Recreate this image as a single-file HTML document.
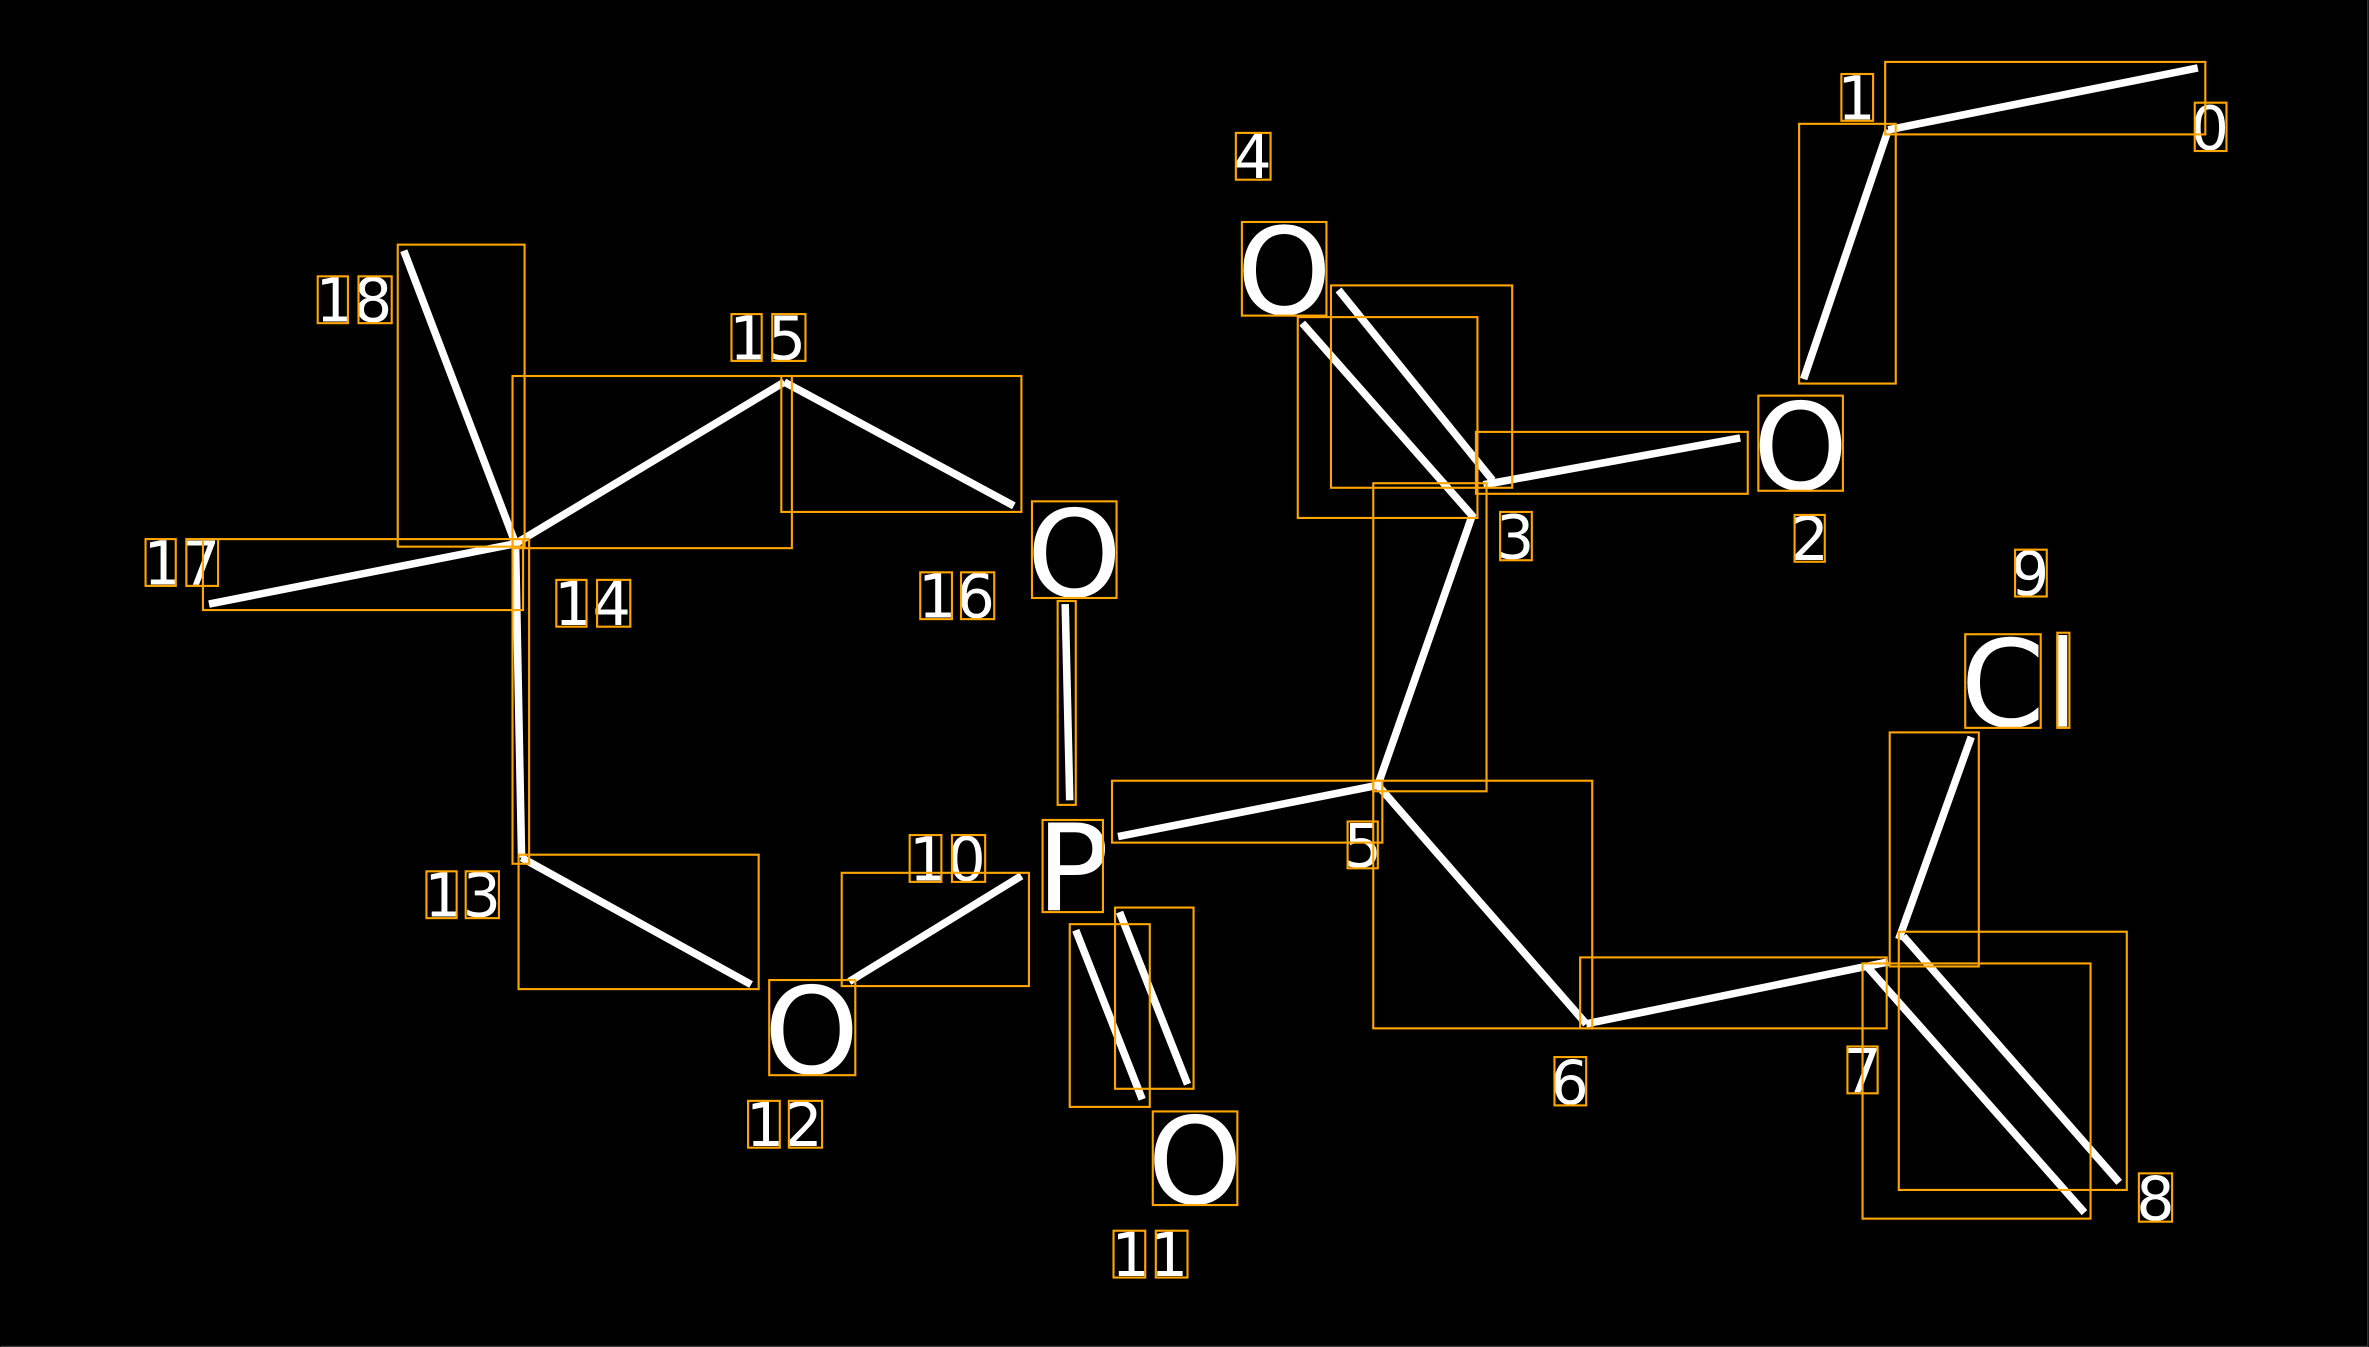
<!DOCTYPE html>
<html><head><meta charset="utf-8"><style>
html,body{margin:0;padding:0;background:#000;}
svg{display:block}
text{font-family:"DejaVu Sans","Liberation Sans",sans-serif;fill:#fff;text-anchor:middle}
.d{font-size:40px}
.a{font-size:80px}
</style></head><body>
<svg width="2369" height="1347" viewBox="0 0 1568 892" xmlns="http://www.w3.org/2000/svg">
<rect x="0" y="0" width="1568" height="892" fill="#000"/>
<line x1="1567.6" y1="0" x2="1567.6" y2="892" stroke="#3a3a3a" stroke-width="0.8"/>
<line x1="0" y1="891.6" x2="1568" y2="891.6" stroke="#3a3a3a" stroke-width="0.8"/>
<g stroke="#fff" stroke-width="5" stroke-linecap="butt" fill="none">
<line x1="1455" y1="45" x2="1250" y2="86"/>
<line x1="1250" y1="86" x2="1194" y2="251"/>
<line x1="982" y1="321" x2="1152" y2="290"/>
<line x1="862" y1="214" x2="975" y2="342"/>
<line x1="886" y1="192" x2="988" y2="318"/>
<line x1="975" y1="340" x2="912" y2="520"/>
<line x1="912" y1="520" x2="740" y2="554"/>
<line x1="912" y1="520" x2="1050" y2="678"/>
<line x1="1050" y1="678" x2="1250" y2="637"/>
<line x1="1257" y1="622" x2="1305" y2="488"/>
<line x1="1236" y1="640" x2="1380" y2="803"/>
<line x1="1260" y1="620" x2="1403" y2="783"/>
<line x1="705" y1="400" x2="708" y2="530"/>
<line x1="712" y1="616" x2="756" y2="728"/>
<line x1="741" y1="604" x2="786" y2="718"/>
<line x1="676" y1="580" x2="562" y2="650"/>
<line x1="497" y1="652" x2="345" y2="568"/>
<line x1="345" y1="568" x2="341" y2="360"/>
<line x1="341" y1="360" x2="519" y2="253"/>
<line x1="519" y1="253" x2="671" y2="335"/>
<line x1="341" y1="360" x2="138" y2="400"/>
<line x1="341" y1="360" x2="267" y2="166"/>
</g>
<g>
<text class="d" x="1229" y="79">1</text>
<text class="d" x="1463" y="99">0</text>
<text class="d" x="829" y="118">4</text>
<text class="a" x="850" y="208">O</text>
<text class="a" x="1192" y="324">O</text>
<text class="d" x="1003" y="370">3</text>
<text class="d" x="1198" y="371">2</text>
<text class="d" x="1344" y="394">9</text>
<text class="a" x="1337" y="481">Cl</text>
<text class="d" x="902" y="574">5</text>
<text class="d" x="1039" y="731">6</text>
<text class="d" x="1233" y="723">7</text>
<text class="d" x="1427" y="808">8</text>
<text class="a" x="711" y="395">O</text>
<text class="d" x="633" y="409">16</text>
<text class="a" x="710" y="603">P</text>
<text class="d" x="627" y="583">10</text>
<text class="a" x="537" y="711">O</text>
<text class="a" x="791" y="797">O</text>
<text class="d" x="761" y="845">11</text>
<text class="d" x="519" y="759">12</text>
<text class="d" x="306" y="607">13</text>
<text class="d" x="392" y="414">14</text>
<text class="d" x="508" y="238">15</text>
<text class="d" x="120" y="387">17</text>
<text class="d" x="234" y="213">18</text>
</g>
<g stroke="#ffa500" stroke-width="1.4" fill="none">
<rect x="1248" y="41" width="212" height="48"/>
<rect x="1191" y="82" width="64" height="172"/>
<rect x="1219" y="49" width="21" height="31"/>
<rect x="1453" y="68" width="21" height="32"/>
<rect x="818" y="88" width="23" height="31"/>
<rect x="822" y="147" width="56" height="62"/>
<rect x="881" y="189" width="120" height="134"/>
<rect x="859" y="210" width="119" height="133"/>
<rect x="977" y="286" width="180" height="41"/>
<rect x="1164" y="262" width="56" height="63"/>
<rect x="993" y="339" width="21" height="32"/>
<rect x="1188" y="341" width="20" height="31"/>
<rect x="1334" y="364" width="21" height="31"/>
<rect x="1301" y="420" width="50" height="62"/>
<rect x="1362" y="419" width="8" height="63"/>
<rect x="909" y="320" width="75" height="204"/>
<rect x="736" y="517" width="179" height="41"/>
<rect x="909" y="517" width="145" height="164"/>
<rect x="892" y="544" width="20" height="31"/>
<rect x="1046" y="634" width="203" height="47"/>
<rect x="1251" y="485" width="59" height="155"/>
<rect x="1257" y="617" width="151" height="171"/>
<rect x="1233" y="638" width="151" height="169"/>
<rect x="1029" y="700" width="21" height="32"/>
<rect x="1223" y="693" width="20" height="31"/>
<rect x="1416" y="777" width="22" height="32"/>
<rect x="683" y="332" width="56" height="64"/>
<rect x="700" y="398" width="12" height="135"/>
<rect x="609" y="379" width="21" height="31"/>
<rect x="636" y="379" width="22" height="31"/>
<rect x="690" y="543" width="40" height="61"/>
<rect x="602" y="553" width="21" height="31"/>
<rect x="630" y="553" width="22" height="31"/>
<rect x="557" y="578" width="124" height="75"/>
<rect x="509" y="649" width="57" height="63"/>
<rect x="708" y="612" width="53" height="121"/>
<rect x="738" y="601" width="52" height="120"/>
<rect x="763" y="736" width="56" height="62"/>
<rect x="737" y="815" width="21" height="31"/>
<rect x="765" y="815" width="21" height="31"/>
<rect x="495" y="729" width="21" height="31"/>
<rect x="522" y="729" width="22" height="31"/>
<rect x="343" y="566" width="159" height="89"/>
<rect x="282" y="577" width="20" height="31"/>
<rect x="308" y="577" width="22" height="31"/>
<rect x="339" y="357" width="11" height="215"/>
<rect x="368" y="384" width="20" height="31"/>
<rect x="395" y="384" width="22" height="31"/>
<rect x="339" y="249" width="185" height="114"/>
<rect x="517" y="249" width="159" height="90"/>
<rect x="484" y="208" width="20" height="31"/>
<rect x="511" y="208" width="22" height="31"/>
<rect x="134" y="357" width="212" height="47"/>
<rect x="96" y="357" width="20" height="31"/>
<rect x="123" y="357" width="21" height="31"/>
<rect x="263" y="162" width="84" height="200"/>
<rect x="210" y="183" width="20" height="31"/>
<rect x="237" y="183" width="22" height="31"/>
</g>
</svg>
</body></html>
